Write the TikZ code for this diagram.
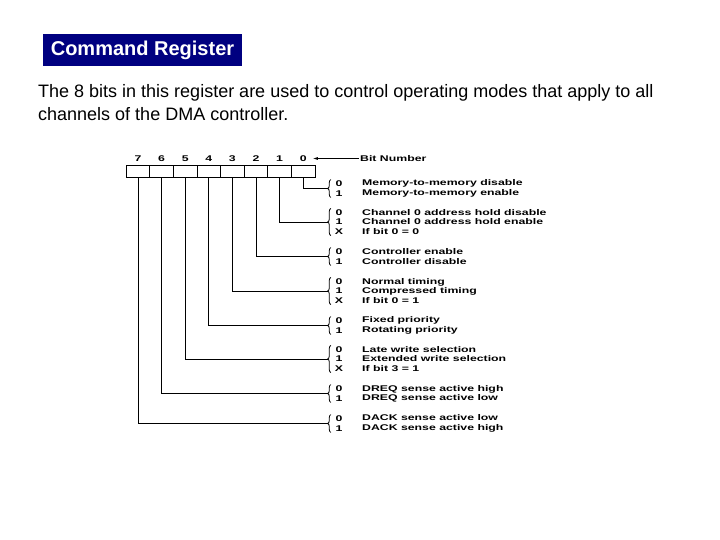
\documentclass[tikz,border=0pt]{standalone}
\usepackage{fontspec}
\setmainfont{Liberation Sans}
\newfontfamily\scanfont[FakeStretch=1.48]{Liberation Sans Bold}
\usetikzlibrary{arrows.meta,positioning,decorations.pathreplacing}
\definecolor{titleblue}{RGB}{0,0,128}
\tikzset{
  heading/.style={fill=titleblue, text=white, font=\fontsize{20}{22}\selectfont\bfseries,
                  minimum width=199pt, minimum height=32pt, inner sep=0pt},
  intro/.style={align=left, inner sep=0pt, font=\fontsize{18}{22.3}\selectfont},
  bitcell/.style={draw, line width=0.9pt, minimum width=23.6pt, minimum height=12pt, inner sep=0pt},
  bitnum/.style={inner sep=1pt, font=\scanfont\fontsize{8.3}{9.3}\selectfont},
  vals/.style={align=center, inner ysep=1.2pt, inner xsep=0pt, minimum width=12pt,
               font=\scanfont\fontsize{8.3}{9.3}\selectfont},
  desc/.style={align=left, anchor=west, inner sep=0pt, font=\scanfont\fontsize{8.3}{9.3}\selectfont},
  lead/.style={line width=0.8pt},
  brc/.style={decorate, decoration={brace, amplitude=3pt}, line width=0.8pt},
  arr/.style={-{Latex[length=5pt, width=3pt]}, line width=0.8pt}
}
\begin{document}
\begin{tikzpicture}[x=1pt, y=-1pt]
  \useasboundingbox (0,0) rectangle (720,540);
  \node[heading] (head) at (142.5,50) {Command Register};
  \node[intro, anchor=north west] (text) at (38,84.6)
    {The 8 bits in this register are used to control operating modes that apply to all\\
     channels of the DMA controller.};

  \foreach \b [count=\i from 0] in {7,6,...,0} {
    \node[bitcell] (b\b) at ({138+23.6*\i},171) {};
    \node[bitnum] (n\b) at ({138+23.6*\i},158.5) {\b};
  }
  \node[bitnum, anchor=west] (bitlbl) at (359,158.5) {Bit Number};
  \draw[arr] (bitlbl.west) -- ([xshift=5pt]n0.east);

  \foreach \b/\y/\v/\d in {
      0/188.5/{0\\1}/{Memory-to-memory disable\\Memory-to-memory enable},
      1/222/{0\\1\\X}/{Channel 0 address hold disable\\Channel 0 address hold enable\\If bit 0 = 0},
      2/256.5/{0\\1}/{Controller enable\\Controller disable},
      3/291/{0\\1\\X}/{Normal timing\\Compressed timing\\If bit 0 = 1},
      4/325.5/{0\\1}/{Fixed priority\\Rotating priority},
      5/359/{0\\1\\X}/{Late write selection\\Extended write selection\\If bit 3 = 1},
      6/393.5/{0\\1}/{DREQ sense active high\\DREQ sense active low},
      7/423.5/{0\\1}/{DACK sense active low\\DACK sense active high}} {
    \node[vals] (v\b) at (339,\y) {\v};
    \node[desc] (d\b) at (362,\y) {\d};
    \draw[brc] ([xshift=-2pt]v\b.south west) -- ([xshift=-2pt]v\b.north west);
    \coordinate (t\b) at ([xshift=-5pt]v\b.west);
    \draw[lead] (b\b.south) |- (t\b);
  }
\end{tikzpicture}
\end{document}
